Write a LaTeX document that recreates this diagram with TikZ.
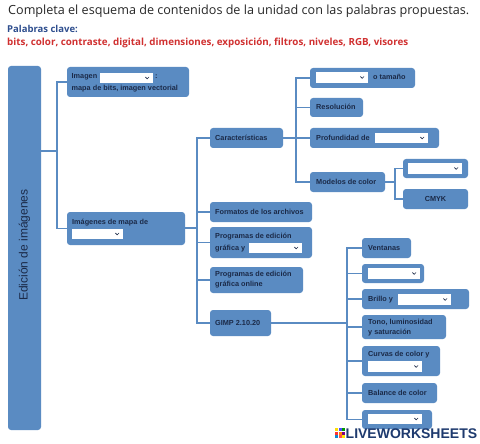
\documentclass[tikz,border=0pt]{standalone}
\usepackage{fontspec}
\setmainfont{Liberation Sans}
\newfontfamily\titlef{Open Sans}
\newfontfamily\kwf{Open Sans}
\newfontfamily\arialf{Liberation Sans}
\usetikzlibrary{fit,calc}
\definecolor{boxblue}{HTML}{5A8BC2}
\definecolor{lineblue}{HTML}{5A8BC2}
\definecolor{navy}{HTML}{1B2A48}
\definecolor{kwblue}{HTML}{2E4E8E}
\definecolor{kwred}{HTML}{D03030}
\definecolor{logoblue}{HTML}{1E3A6E}
\tikzset{
  box/.style={fill=boxblue, draw=none, rounded corners=3pt, inner sep=0pt},
  ddstyle/.style={fill=white, draw=none, inner sep=0pt},
  chev/.style={draw=navy, line width=0.7pt},
  conn/.style={draw=lineblue, line width=1.3pt},
  lbl/.style={text=navy, font=\arialf\bfseries\fontsize{7.3}{8}\selectfont, inner sep=0pt, anchor=west, text height=5.4pt, text depth=1.4pt},
}
\newcommand\bx[5]{\node[box, fit={(#2,#3) (#4,#5)}] (#1) {};}
\newcommand\dd[5]{\node[ddstyle, fit={(#2,#3) (#4,#5)}] (#1) {};
  \draw[chev] ($(#1.east)+(-7.8,-1)$) -- ($(#1.east)+(-6,0.8)$) -- ($(#1.east)+(-4.2,-1)$);}
\begin{document}
\begin{tikzpicture}[x=1pt,y=-1pt]
\useasboundingbox (0,0) rectangle (480,444);
% header
\node[anchor=base west, inner sep=0pt, text=black!85, font=\titlef\fontsize{12.6}{14}\selectfont] (title) at (8,15) {Completa el esquema de contenidos de la unidad con las palabras propuestas.};
\node[anchor=base west, inner sep=0pt, text=kwblue, font=\kwf\bfseries\fontsize{9.5}{11}\selectfont] (pc) at (7,33) {Palabras clave:};
\node[anchor=base west, inner sep=0pt, text=kwred, font=\kwf\bfseries\fontsize{9.8}{11}\selectfont] (kw) at (7,46) {bits, color, contraste, digital, dimensiones, exposición, filtros, niveles, RGB, visores};
% boxes
\bx{main}{8}{66}{41}{430}
\bx{b1}{67}{67}{189}{97}
\bx{b2}{67}{212}{185}{245}
\bx{car}{210}{128}{283}{148}
\bx{fmt}{210}{202}{312}{222}
\bx{prg}{210}{227}{312}{258}
\bx{onl}{210}{267}{303}{293}
\bx{gimp}{210}{310}{271}{336}
\bx{tam}{310}{68}{415}{88}
\bx{res}{310}{98}{363}{117}
\bx{pro}{310}{128}{439}{148}
\bx{mod}{310}{172}{385}{192}
\bx{m1}{403}{159}{468}{178}
\bx{cmyk}{403}{189}{468}{209}
\bx{ven}{362}{238}{411}{258}
\bx{g2}{362}{264}{424}{283}
\bx{bri}{362}{289}{469}{309}
\bx{ton}{362}{315}{446}{339}
\bx{cur}{362}{346}{440}{376}
\bx{bal}{362}{383}{437}{403}
\bx{g7}{362}{410}{432}{429}
% dropdowns
\dd{d1}{100}{73}{153}{83}
\dd{d2}{72}{229}{123}{239}
\dd{dtam}{316}{72}{368}{83}
\dd{dpro}{375}{133}{428}{143}
\dd{dm1}{408}{163}{462}{174}
\dd{dprg}{249}{243}{302}{253}
\dd{dg2}{368}{268}{420}{279}
\dd{dbri}{398}{294}{451}{305}
\dd{dcur}{368}{361}{422}{372}
\dd{dg7}{368}{414}{422}{424}
% junction points
\coordinate (t1) at (57,151);
\coordinate (t2) at (197,228);
\coordinate (t3) at (296,138);
\coordinate (t4) at (395,182);
\coordinate (t5) at (347,323);
% connectors
\draw[conn] (main.east |- t1) -- (t1);
\draw[conn] (b1.west) -| (t1);
\draw[conn] (b2.west) -| (t1);
\draw[conn] (b2.east |- t2) -- (t2);
\foreach \n in {car,fmt,prg,onl,gimp} \draw[conn] (\n.west) -| (t2);
\draw[conn] (car.east) -- (t3);
\foreach \n in {tam,res,pro,mod} \draw[conn] (\n.west) -| (t3);
\draw[conn] (mod.east) -- (t4);
\foreach \n in {m1,cmyk} \draw[conn] (\n.west) -| (t4);
\draw[conn] (gimp.east) -- (t5);
\foreach \n in {ven,g2,bri,ton,cur,bal,g7} \draw[conn] (\n.west) -| (t5);
% texts
\node[text=navy, font=\arialf\fontsize{12}{14}\selectfont, rotate=90, inner sep=0pt] (mt) at (24.5,245) {Edición de imágenes};
\node[lbl] (l1) at (71.5,77) {Imagen};
\node[lbl] (l1b) at (155,77) {:};
\node[lbl] (l1c) at (71.5,89) {mapa de bits, imagen vectorial};
\node[lbl] (l2) at (72,222) {Imágenes de mapa de};
\node[lbl] (lcar) at (215,138) {Características};
\node[lbl] (lfmt) at (215,212) {Formatos de los archivos};
\node[lbl] (lprg) at (215,236) {Programas de edición};
\node[lbl] (lprg2) at (215,248) {gráfica y};
\node[lbl] (lonl) at (215,274) {Programas de edición};
\node[lbl] (lonl2) at (215,284.5) {gráfica online};
\node[lbl] (lgimp) at (215,323) {GIMP 2.10.20};
\node[lbl] (ltam) at (373,78) {o tamaño};
\node[lbl] (lres) at (316,107.5) {Resolución};
\node[lbl] (lpro) at (316,138) {Profundidad de};
\node[lbl] (lmod) at (316,182) {Modelos de color};
\node[lbl, anchor=center] (lcmyk) at (435.5,199) {CMYK};
\node[lbl] (lven) at (368,248) {Ventanas};
\node[lbl] (lbri) at (368,299.5) {Brillo y};
\node[lbl] (lton) at (368,322.5) {Tono, luminosidad};
\node[lbl] (lton2) at (368,332) {y saturación};
\node[lbl] (lcur) at (368,354) {Curvas de color y};
\node[lbl] (lbal) at (368,393) {Balance de color};
% logo
\fill[yellow!80!orange] (335,428) rectangle (338,431);
\fill[blue!70] (338.5,428) rectangle (341.5,431);
\fill[green!60!black] (342,428) rectangle (345,431);
\fill[red!80] (335,431.5) rectangle (338,434.5);
\fill[orange] (338.5,431.5) rectangle (341.5,434.5);
\fill[violet] (342,431.5) rectangle (345,434.5);
\fill[cyan!70!blue] (335,435) rectangle (338,438);
\fill[red!70] (338.5,435) rectangle (341.5,438);
\fill[yellow!90!orange] (342,435) rectangle (345,438);
\node[anchor=base west, inner sep=0pt, text=logoblue, font=\arialf\bfseries\fontsize{14}{16}\selectfont] (logo) at (345.5,438.5) {LIVEWORKSHEETS};
\end{tikzpicture}
\end{document}
